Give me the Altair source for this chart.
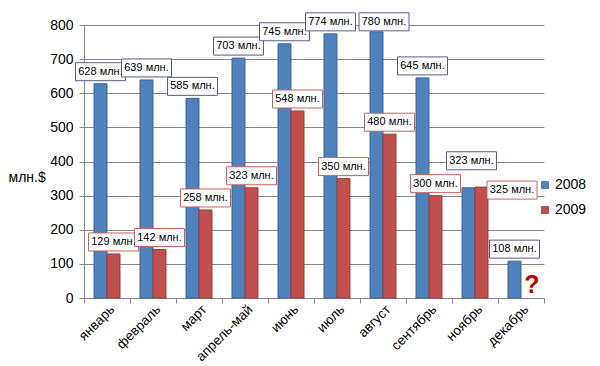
import altair as alt
import pandas as pd

months = ["январь", "февраль", "март", "апрель-май", "июнь", "июль",
          "август", "сентябрь", "ноябрь", "декабрь"]
v2008 = [628, 639, 585, 703, 745, 774, 780, 645, 323, 108]
v2009 = [129, 142, 258, 323, 548, 350, 480, 300, 325, None]
years = ["2008", "2009"]
y_ticks = [0, 100, 200, 300, 400, 500, 600, 700, 800]

fills = ["#4F81BD", "#C0504D"]
edges = ["#3A6797", "#9A3C39"]
box_edges = ["#5A5A86", "#C9605D"]
FONT = "Liberation Sans"

rows = []
for m, a, b in zip(months, v2008, v2009):
    rows.append({"month": m, "year": "2008", "value": a, "label": f"{a} млн."})
    if b is not None:
        rows.append({"month": m, "year": "2009", "value": b, "label": f"{b} млн."})
df = pd.DataFrame(rows)
missing = pd.DataFrame({"month": ["декабрь"], "value": [0], "t": ["?"]})

x_enc = alt.X("month:N", sort=months,
              scale=alt.Scale(paddingInner=0, paddingOuter=0),
              axis=alt.Axis(title=None, labelAngle=-45, labelFontSize=13.5,
                            labelFont=FONT, labelColor="black",
                            labelAlign="right", labelBaseline="middle",
                            labelOffset=5,
                            tickBand="extent", tickSize=5, labelPadding=4,
                            domainColor="#868686", tickColor="#868686",
                            grid=False))
y_enc = alt.Y("value:Q", scale=alt.Scale(domain=[0, 800], nice=False),
              axis=alt.Axis(values=y_ticks, title="млн.$", titleAngle=0,
                            titleX=-76, titleY=152, titleAlign="left",
                            titleBaseline="middle", titleFontSize=14,
                            titleFont=FONT, titleFontWeight="normal",
                            titleColor="black",
                            labelFontSize=14, labelFont=FONT, labelColor="black",
                            tickSize=5, labelPadding=6,
                            gridColor="#868686", domainColor="#868686",
                            tickColor="#868686"))

bars = alt.Chart(df).mark_bar(strokeWidth=1).encode(
    x=x_enc,
    xOffset=alt.XOffset("year:N", scale=alt.Scale(domain=years, paddingInner=0, paddingOuter=0.77)),
    y=y_enc,
    fill=alt.Fill("year:N", scale=alt.Scale(domain=years, range=fills),
                  legend=alt.Legend(title=None, orient="none", legendX=454, legendY=153,
                                    symbolType="square", symbolSize=64,
                                    symbolStrokeWidth=0,
                                    labelFontSize=14, labelFont=FONT,
                                    labelColor="black", rowPadding=11,
                                    labelOffset=3)),
    stroke=alt.Stroke("year:N", scale=alt.Scale(domain=years, range=edges), legend=None),
)

BOX = "M-1,-0.36H1V0.36H-1Z"


def label_layer(cond, dx, dy, edge):
    b = alt.Chart(df).transform_filter(cond)
    box = b.mark_point(shape=BOX, size=2500, filled=True, fill="white",
                       stroke=edge, strokeWidth=1, opacity=1,
                       xOffset=dx, yOffset=dy).encode(x=x_enc, y=y_enc)
    txt = b.mark_text(dx=dx, dy=dy, fontSize=11, font=FONT, color="black",
                      baseline="middle", align="center").encode(
        x=x_enc, y=y_enc, text="label:N")
    return [box, txt]


layers = [bars]
layers += label_layer("datum.year=='2008' && datum.month!='ноябрь' && datum.month!='август'",
                      -6.5, -12, box_edges[0])
layers += label_layer("datum.year=='2008' && datum.month=='август'", 1, -10, box_edges[0])
layers += label_layer("datum.year=='2008' && datum.month=='ноябрь'", -3.5, -27, box_edges[0])
layers += label_layer("datum.year=='2009' && datum.month!='ноябрь'", 6.5, -12, box_edges[1])
layers += label_layer("datum.year=='2009' && datum.month=='ноябрь'", 37, 3, box_edges[1])

qmark = alt.Chart(missing).mark_text(dx=11, dy=-5, fontSize=25, fontWeight="bold",
                                     font=FONT, color="#C00000",
                                     baseline="alphabetic", align="center").encode(
    x=x_enc, y=y_enc, text="t:N")
layers.append(qmark)

chart = alt.layer(*layers).properties(
    width=460, height=273,
    autosize=alt.AutoSizeParams(type="none"),
    padding={"left": 76, "top": 17, "right": 48, "bottom": 68},
).configure_view(strokeWidth=0)

chart.save("out.html", embed_options={"renderer": "svg", "actions": False})
